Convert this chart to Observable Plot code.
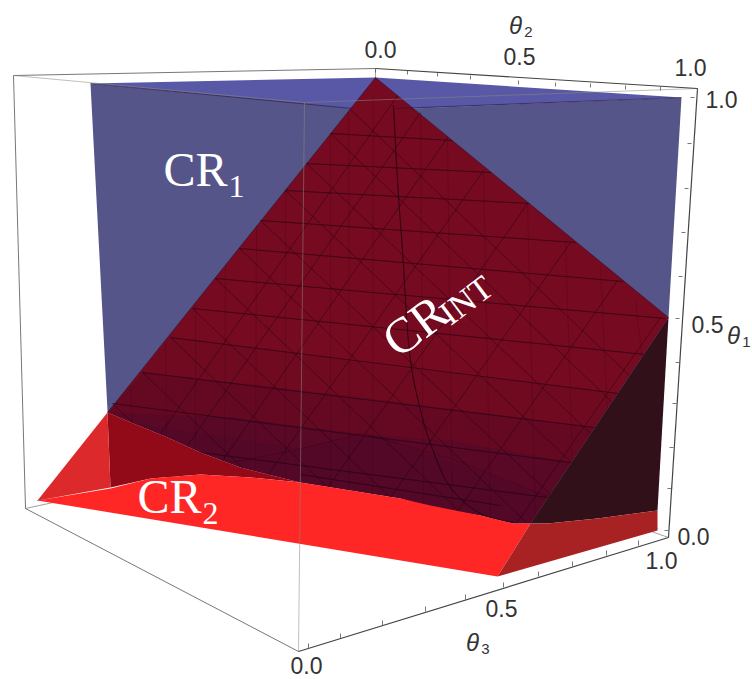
<!DOCTYPE html>
<html><head><meta charset="utf-8">
<script src="https://cdn.jsdelivr.net/npm/d3@7"></script>
<script src="https://cdn.jsdelivr.net/npm/@observablehq/plot@0.6"></script>
<style>html,body{margin:0;padding:0;background:#fff}svg{display:block}</style>
</head><body><div id="chart"></div>
<script>
// Chart-plane positions of the projected regions as [x, y]
const cr1Top = [[90,83],[375,77],[681,97],[395,109],[352,109]];
const cr1Side = [[90,83],[352,108],[413,108],[681,97],[668,317],[375,250],[107,412],[111,487]];
const crIntSurface = [[375,77],[668,317],[530,523],[513,523],[480,515],[430,507],[400,498],[300,482],[240,467],[200,452],[167,437],[133,423],[107,412]];
const surfaceFoot = [[530,523],[513,523],[480,515],[430,507],[400,498],[300,482],[240,467],[200,452],[167,437],[133,423],[107,412]];
const shadeUpper = [[170,337],[285,352],[400,368],[618,393],[549,495],...surfaceFoot];
const shadeMiddle = [[142,372],[260,385],[387,400],[594,427],[549,495],...surfaceFoot];
const shadeLower = [[107,412],[233,417],[363,434],[450,440],[570,462],...surfaceFoot];
const shadeFloor = [[133,423],[300,448],[372,434],[545,495],...surfaceFoot.slice(0, 10)];
const midBand = [[107,412],[133,423],[167,437],[200,452],[240,467],[300,482],[250,477],[200,474],[150,478],[110,487]];
const cr2Left = [[37,500],[107,412],[110,487]];
const cr2Bright = [[37,500],[110,488],[150,478],[200,474],[250,477],[300,482],[400,498],[430,505],[480,515],[513,523],[530,523],[497,576]];
const cr2Right = [[497,576],[530,523],[547,523],[597,518],[657,510],[657,530]];
const darkWedge = [[668,317],[530,523],[547,523],[597,518],[657,510]];
const intCurve = [[393,105],[397,180],[402,250],[410,360],[420,410],[430,443],[450,487],[480,513],[513,522]];
const cr2Streak = [[37,500],[110,485],[200,468],[293,450],[363,433]];
const rearEdge = [[363,433],[450,458],[545,495],[657,528]];
const surfaceEdges = [[375,77,107,412],[375,77,668,317],[668,317,530,523],[90,83,352,108],[395,108,681,97]];

// Surface mesh, each segment [x1, y1, x2, y2]
const meshRows = [
  [330,133,452,140],[306,163,491,172],[285,190,529,203],[260,220,575,242],
  [239,248,623,281],[215,278,665,318],[192,308,645,354],[170,337,618,393],
  [142,372,594,427],[112,403,570,462],[200,452,547,497],[300,474,500,505]
];
const meshSlash = [
  [397,95,160,433],[420,112,187,445],[447,137,222,460],[483,170,267,475],
  [527,203,328,486],[570,242,390,497],[617,280,456,512],[660,317,516,523]
];
const meshBackslash = [
  [350,109,629,375],[330,133,611,401],[306,163,590,433],[285,190,571,462],
  [260,220,551,495],[239,248,526,522],[215,278,460,512],[192,308,390,497],
  [170,337,325,485],[142,372,243,468],[112,403,133,423]
];
const meshColumns = [
  [130,385,132,423],[165,340,166,437],[195,305,195,450],[225,265,224,465],
  [256,225,255,472],[285,190,285,480],[330,133,330,487],[348,110,349,490],
  [373,95,372,495],[420,112,423,505],[447,137,452,512],[483,170,490,515],
  [527,203,535,522],[565,238,572,465],[600,266,607,415],[635,300,642,360]
];

// Bounding box edges
const boxThin = [[13,75,375,68],[13,75,25,508],[25,508,298,651]];
const boxHidden = [[375,68,372,433],[25,508,372,433],[372,433,668,537]];
const boxFront = [[304,102,298,651],[13,75,304,102],[304,102,697,88]];
const boxAxes = [[375,68,697,88],[697,88,668,537],[298,651,668,537]];

// Axis tick positions
const theta2Ticks = [[375,68],[407,70],[437,72],[470,75],[518,80],[555,82],[590,83],[625,85],[660,86],[697,88]];
const theta1Ticks = [[694,97],[691,143],[688,188],[685,232],[682,276],[679,318],[679,362],[676,403],[673,447],[671,488],[668,530]];
const theta3Ticks = [[308,648],[340,638],[382,625],[425,611],[465,599],[503,587],[538,576],[572,566],[606,555],[638,545]];

// Text
const tickLabels = [
  {t:"0.0",x:380,y:50},{t:"0.5",x:519,y:57},{t:"1.0",x:690,y:68},
  {t:"1.0",x:721,y:100},{t:"0.5",x:707,y:325},{t:"0.0",x:693,y:537},
  {t:"1.0",x:661,y:561},{t:"0.5",x:501,y:609},{t:"0.0",x:306,y:666}
];
const axisNames = [{t:"θ",x:515,y:26,s:"2",sx:528,sy:32},{t:"θ",x:733,y:336,s:"1",sx:746,sy:342},{t:"θ",x:472,y:643,s:"3",sx:485,sy:649}];
const regionNames = [{t:"CR",x:195,y:170},{t:"CR",x:169,y:497}];
const regionSubs = [{t:"1",x:236,y:186},{t:"2",x:210,y:513}];

const poly = (pts, fill, fillOpacity = 1) =>
  Plot.line(pts, {x: d => d[0], y: d => d[1], fill, fillOpacity, stroke: "none", curve: "linear"});
const segs = (rows, stroke, strokeWidth, strokeOpacity = 1) =>
  Plot.link(rows, {x1: d => d[0], y1: d => d[1], x2: d => d[2], y2: d => d[3], stroke, strokeWidth, strokeOpacity});
const sans = "'Liberation Sans', Arial, sans-serif";
const serif = "'Liberation Serif', serif";

const chart = Plot.plot({
  width: 752, height: 679, margin: 0,
  style: {background: "#fff"},
  x: {domain: [0, 752], axis: null},
  y: {domain: [679, 0], axis: null},
  marks: [
    segs(boxHidden, "#888", 0.8),
    segs(boxThin, "#777", 1),
    poly(cr1Top, "#5858a6"),
    poly(cr1Side, "#55558a"),
    poly(crIntSurface, "#760a20"),
    poly(shadeUpper, "#200830", 0.08),
    poly(shadeMiddle, "#200830", 0.12),
    poly(shadeLower, "#200830", 0.16),
    poly(shadeFloor, "#200830", 0.1),
    segs(meshColumns, "#200010", 0.7, 0.25),
    segs(meshRows, "#1c0010", 1, 0.6),
    segs(meshSlash, "#1c0010", 0.9, 0.5),
    segs(meshBackslash, "#1c0010", 0.9, 0.5),
    segs(surfaceEdges, "#2a1030", 1, 0.55),
    Plot.line(intCurve, {x: d => d[0], y: d => d[1], stroke: "#1c0010", strokeWidth: 1, strokeOpacity: 0.8, curve: "catmull-rom"}),
    Plot.line(cr2Streak, {x: d => d[0], y: d => d[1], stroke: "#300020", strokeWidth: 1, strokeOpacity: 0.35}),
    Plot.line(rearEdge, {x: d => d[0], y: d => d[1], stroke: "#300020", strokeWidth: 1, strokeOpacity: 0.3}),
    poly(darkWedge, "#31101a"),
    poly(midBand, "#920a18"),
    poly(cr2Left, "#dc2a2c"),
    poly(cr2Bright, "#ff2626"),
    poly(cr2Right, "#a82224"),
    segs(boxFront, "#8a8a7a", 0.9, 0.6),
    segs(boxAxes, "#444", 1.2),
    Plot.link(theta2Ticks, {x1: d => d[0], y1: d => d[1], x2: d => d[0], y2: d => d[1] + 4, stroke: "#555", strokeWidth: 0.8}),
    Plot.link(theta1Ticks, {x1: d => d[0], y1: d => d[1], x2: d => d[0] - 4, y2: d => d[1], stroke: "#555", strokeWidth: 0.8}),
    Plot.link(theta3Ticks, {x1: d => d[0], y1: d => d[1], x2: d => d[0], y2: d => d[1] - 5, stroke: "#555", strokeWidth: 0.8}),
    Plot.text(tickLabels, {x: "x", y: "y", text: "t", fontSize: 23, fontFamily: sans, fill: "#333"}),
    Plot.text(axisNames, {x: "x", y: "y", text: "t", fontSize: 24, fontFamily: sans, fontStyle: "italic", fill: "#333"}),
    Plot.text(axisNames, {x: "sx", y: "sy", text: "s", fontSize: 15, fontFamily: sans, fill: "#333"}),
    Plot.text(regionNames, {x: "x", y: "y", text: "t", fontSize: 48, fontFamily: serif, fill: "#fff"}),
    Plot.text(regionSubs, {x: "x", y: "y", text: "t", fontSize: 32, fontFamily: serif, fill: "#fff"}),
    Plot.text(["CR"], {x: [415], y: [326], text: d => d, rotate: -37, fontSize: 50, fontFamily: serif, fill: "#fff"}),
    Plot.text(["INT"], {x: [466], y: [300], text: d => d, rotate: -37, fontSize: 34, fontFamily: serif, fill: "#fff"})
  ]
});
document.getElementById("chart").append(chart);
</script></body></html>
